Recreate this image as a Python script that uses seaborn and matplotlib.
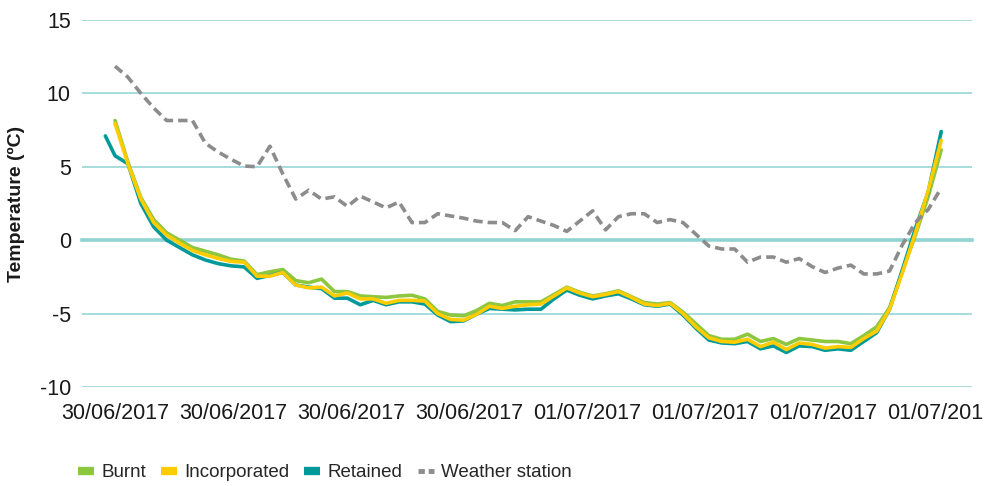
import numpy as np
import pandas as pd
import matplotlib
matplotlib.use("Agg")
import matplotlib.pyplot as plt
import seaborn as sns
from matplotlib.lines import Line2D

# soil temperature (ºC) at each logged reading
burnt = [8.15, 5.3, 2.9, 1.4, 0.5, 0.0, -0.5, -0.75, -1.0, -1.3, -1.42, -2.35, -2.15, -2.0,
         -2.75, -2.9, -2.65, -3.5, -3.5, -3.8, -3.85, -3.9, -3.8, -3.75, -4.0, -4.85, -5.1,
         -5.15, -4.8, -4.3, -4.45, -4.2, -4.2, -4.2, -3.7, -3.2, -3.55, -3.8, -3.65, -3.45,
         -3.85, -4.25, -4.35, -4.25, -4.9, -5.7, -6.5, -6.75, -6.75, -6.4, -6.9, -6.7, -7.1,
         -6.7, -6.8, -6.9, -6.9, -7.05, -6.5, -5.9, -4.6, -2.1, 0.35, 3.0, 6.15]
incorporated = [7.95, 5.2, 2.8, 1.2, 0.35, -0.2, -0.7, -1.0, -1.25, -1.45, -1.5, -2.45, -2.45,
                -2.2, -3.05, -3.25, -3.2, -3.8, -3.6, -4.0, -4.0, -4.3, -4.1, -4.1, -4.15, -5.0,
                -5.4, -5.45, -5.05, -4.5, -4.65, -4.5, -4.4, -4.35, -3.8, -3.25, -3.6, -3.85,
                -3.7, -3.5, -3.9, -4.35, -4.45, -4.3, -5.0, -5.9, -6.65, -6.9, -6.95, -6.75,
                -7.25, -6.95, -7.45, -7.0, -7.1, -7.35, -7.25, -7.3, -6.7, -6.2, -4.7, -2.2,
                0.5, 3.4, 6.8]
retained = [5.75, 5.2, 2.5, 0.9, 0.0, -0.5, -1.0, -1.35, -1.6, -1.75, -1.82, -2.6, -2.4, -2.2,
            -3.05, -3.2, -3.3, -3.95, -3.95, -4.4, -4.1, -4.4, -4.2, -4.2, -4.35, -5.1, -5.55,
            -5.5, -5.05, -4.65, -4.7, -4.75, -4.7, -4.7, -4.0, -3.4, -3.75, -4.0, -3.8, -3.65,
            -4.0, -4.4, -4.5, -4.35, -5.1, -6.0, -6.8, -7.0, -7.05, -6.9, -7.4, -7.2, -7.65,
            -7.2, -7.25, -7.5, -7.4, -7.5, -6.9, -6.3, -4.7, -2.0, 0.8, 3.3, 7.4]
weather = [11.85, 11.1, 10.0, 9.0, 8.15, 8.15, 8.15, 6.6, 6.0, 5.5, 5.05, 5.0, 6.4, 4.5, 2.8,
           3.4, 2.8, 2.95, 2.3, 3.0, 2.6, 2.2, 2.6, 1.2, 1.2, 1.8, 1.65, 1.5, 1.3, 1.2, 1.2,
           0.65, 1.6, 1.3, 1.0, 0.6, 1.3, 2.0, 0.7, 1.6, 1.8, 1.8, 1.2, 1.4, 1.2, 0.4, -0.4,
           -0.6, -0.6, -1.5, -1.15, -1.15, -1.5, -1.25, -1.8, -2.2, -1.9, -1.7, -2.3, -2.3,
           -2.1, -0.3, 1.2, 2.1, 3.55]
# the Retained logger has one reading slightly before the others
retained_early_step = -0.75
retained_early_temp = 7.1

tick_labels = ["30/06/2017"] * 4 + ["01/07/2017"] * 4
series_names = ["Burnt", "Incorporated", "Retained", "Weather station"]
colors = {"Burnt": "#8dc63f", "Incorporated": "#ffcc00",
          "Retained": "#009a9a", "Weather station": "#8c8c8c"}
grid_col = "#8fd3d3"


def build_frame():
    steps = np.arange(len(burnt))
    parts = [
        pd.DataFrame({"step": steps, "temp": burnt, "series": "Burnt"}),
        pd.DataFrame({"step": np.r_[retained_early_step, steps],
                      "temp": [retained_early_temp] + retained, "series": "Retained"}),
        pd.DataFrame({"step": steps, "temp": incorporated, "series": "Incorporated"}),
        pd.DataFrame({"step": steps, "temp": weather, "series": "Weather station"}),
    ]
    return pd.concat(parts, ignore_index=True)


sns.set_theme(style="white")
plt.rcParams["font.family"] = ["Liberation Sans", "DejaVu Sans"]
plt.rcParams["axes.unicode_minus"] = False

fig = plt.figure(figsize=(9.84, 4.86), dpi=100)
ax = fig.add_axes([0.0833, 0.2037, 0.9047, 0.7553])

df = build_frame()
order = ["Burnt", "Retained", "Incorporated", "Weather station"]
sns.lineplot(data=df, x="step", y="temp", hue="series", style="series",
             hue_order=order, style_order=order, palette=colors,
             dashes={"Burnt": "", "Retained": "", "Incorporated": "",
                     "Weather station": (2.6, 1.4)},
             linewidth=2.6, estimator=None, sort=False, legend=False, ax=ax)
for ln in ax.get_lines():
    ln.set_solid_joinstyle("round")

n = len(burnt) - 1
ax.set_xlim(-2.56, 66.4)
ax.set_ylim(-10, 15)
ax.set_xticks(np.linspace(0, n, len(tick_labels)))
ax.set_xticklabels(tick_labels)
ax.set_yticks([-10, -5, 0, 5, 10, 15])
ax.set_xlabel("")

ax.yaxis.grid(True, color=grid_col, linewidth=1.1)
ax.xaxis.grid(False)
for s in ["top", "right", "left"]:
    ax.spines[s].set_visible(False)
ax.spines["bottom"].set_position(("data", 0))
ax.spines["bottom"].set_color(grid_col)
ax.spines["bottom"].set_linewidth(2.6)
ax.spines["bottom"].set_zorder(1)

ax.tick_params(axis="x", direction="out", length=5.5, width=1, color=grid_col,
               pad=112, labelsize=15.5, labelcolor="#1a1a1a")
ax.tick_params(axis="y", length=0, pad=8, labelsize=15.5, labelcolor="#1a1a1a")

ax.set_ylabel("Temperature (ºC)", fontweight="bold", fontsize=14, color="#1a1a1a")
ax.yaxis.set_label_coords(-0.064, 0.5)

handles = [Line2D([0], [0], color=colors[s], lw=6, solid_capstyle="butt") for s in series_names[:3]]
handles.append(Line2D([0], [0], color=colors["Weather station"], lw=3.5,
                      linestyle=(0, (1.3, 0.8))))
fig.legend(handles, series_names, loc="center left", bbox_to_anchor=(0.079, 0.027),
           ncol=4, frameon=False, fontsize=13.5, handlelength=0.85, handletextpad=0.4,
           columnspacing=0.8, borderpad=0, borderaxespad=0)

fig.savefig("out.png", dpi=100)
